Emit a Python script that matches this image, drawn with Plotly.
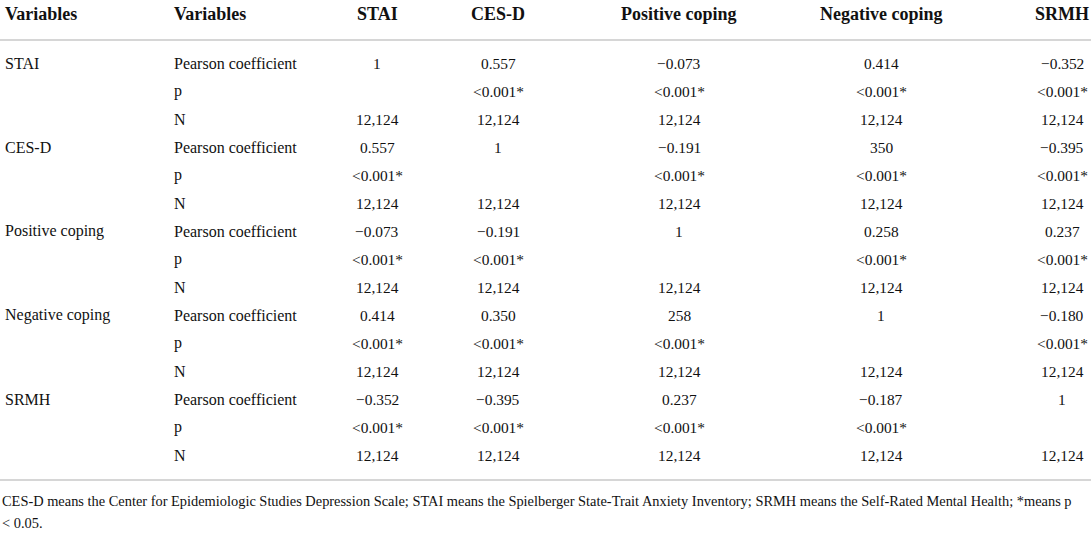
import plotly.graph_objects as go

# ---- data ----
header = ["Variables", "Variables", "STAI", "CES-D", "Positive coping", "Negative coping", "SRMH"]
row_vars = ["STAI", "CES-D", "Positive coping", "Negative coping", "SRMH"]
stat_labels = ["Pearson coefficient", "p", "N"]
pearson = [
    ["1", "0.557", "\u22120.073", "0.414", "\u22120.352"],
    ["0.557", "1", "\u22120.191", "350", "\u22120.395"],
    ["\u22120.073", "\u22120.191", "1", "0.258", "0.237"],
    ["0.414", "0.350", "258", "1", "\u22120.180"],
    ["\u22120.352", "\u22120.395", "0.237", "\u22120.187", "1"],
]
p_values = [
    ["", "<0.001*", "<0.001*", "<0.001*", "<0.001*"],
    ["<0.001*", "", "<0.001*", "<0.001*", "<0.001*"],
    ["<0.001*", "<0.001*", "", "<0.001*", "<0.001*"],
    ["<0.001*", "<0.001*", "<0.001*", "", "<0.001*"],
    ["<0.001*", "<0.001*", "<0.001*", "<0.001*", ""],
]
n_values = [["12,124"] * 5 for _ in range(5)]
footnote = [
    "CES-D means the Center for Epidemiologic Studies Depression Scale; STAI means the Spielberger State-Trait Anxiety Inventory; SRMH means the Self-Rated Mental Health; *means p",
    "< 0.05.",
]

# ---- layout constants ----
W, H = 1091, 536
FONT = "Liberation Serif"
TXT = "#111111"
LINE = "#c8c8c8"
col_left = [3, 172]
col_center = [377, 498, 679, 881, 1062]
header_y = 14
row0_y = 63
row_step = 28
top_line_y = 40
bottom_line_y = 480
foot_y = [501, 523]
SIZE_HEAD = 18
SIZE_LABEL = 16
SIZE_VALUE = 15.4
SIZE_FOOT = 14.4


def esc(s):
    return s.replace("&", "&amp;").replace("<", "&lt;").replace(">", "&gt;")


fig = go.Figure()
ann = []

# header
for i, h in enumerate(header):
    x = col_left[i] if i < 2 else col_center[i - 2]
    ann.append(dict(x=x, y=header_y, text="<b>%s</b>" % esc(h),
                    xanchor="left" if i < 2 else "center",
                    font=dict(family=FONT, size=SIZE_HEAD, color=TXT)))

stats = [pearson, p_values, n_values]
for g, var in enumerate(row_vars):
    for s, lab in enumerate(stat_labels):
        y = row0_y + (g * 3 + s) * row_step
        if s == 0:
            ann.append(dict(x=col_left[0], y=y, text=esc(var), xanchor="left",
                            font=dict(family=FONT, size=SIZE_LABEL, color=TXT)))
        ann.append(dict(x=col_left[1], y=y, text=esc(lab), xanchor="left",
                        font=dict(family=FONT, size=SIZE_LABEL, color=TXT)))
        for c, val in enumerate(stats[s][g]):
            if val:
                ann.append(dict(x=col_center[c], y=y, text=esc(val), xanchor="center",
                                font=dict(family=FONT, size=SIZE_VALUE, color=TXT)))

for i, line in enumerate(footnote):
    ann.append(dict(x=0, y=foot_y[i], text=esc(line), xanchor="left",
                    font=dict(family=FONT, size=SIZE_FOOT, color=TXT)))

for a in ann:
    a.update(xref="x", yref="y", yanchor="middle", showarrow=False)

shapes = [
    dict(type="line", xref="paper", yref="y", x0=0, x1=1, y0=top_line_y, y1=top_line_y,
         line=dict(color=LINE, width=1.5)),
    dict(type="line", xref="paper", yref="y", x0=0, x1=1, y0=bottom_line_y, y1=bottom_line_y,
         line=dict(color=LINE, width=1.5)),
]

fig.add_trace(go.Scatter(x=[0, W], y=[0, H], mode="markers", marker=dict(opacity=0),
                         hoverinfo="skip", showlegend=False))
fig.update_layout(
    width=W, height=H,
    margin=dict(l=0, r=0, t=0, b=0),
    paper_bgcolor="white", plot_bgcolor="white",
    xaxis=dict(range=[0, W], visible=False, fixedrange=True),
    yaxis=dict(range=[H, 0], visible=False, fixedrange=True),
    annotations=ann, shapes=shapes, showlegend=False,
)
fig.write_html(
    "out.html",
    config={"displayModeBar": False},
    post_script="document.body.style.margin='0';document.body.style.overflow='hidden';",
)
